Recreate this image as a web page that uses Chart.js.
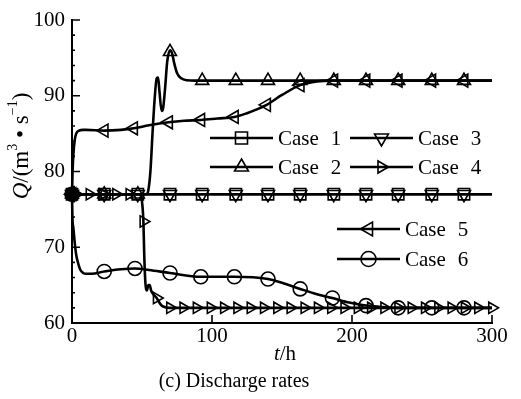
<!DOCTYPE html>
<html><head><meta charset="utf-8">
<script src="https://cdn.jsdelivr.net/npm/chart.js@4/dist/chart.umd.min.js"></script>
<style>html,body{margin:0;padding:0;background:#fff;}</style>
</head><body>
<canvas id="c" width="521" height="399"></canvas>
<script>
// ---------- data ----------
const caseLabels = ['Case 1', 'Case 2', 'Case 3', 'Case 4', 'Case 5', 'Case 6'];
const xTickValues = [0, 100, 200, 300];
const yTickValues = [60, 70, 80, 90, 100];

// Case 1 (square)
const c1T = [0, 300];
const c1Q = [77, 77];
const c1MarkT = [0, 23, 47, 70, 93, 117, 140, 163, 187, 210, 233, 257, 280];
const c1MarkQ = [77, 77, 77, 77, 77, 77, 77, 77, 77, 77, 77, 77, 77];

// Case 2 (triangle up)
const c2T = [0, 50, 53, 54.5, 56, 57.5, 59, 60.5, 61.5, 62.5, 64, 65, 66.5, 68, 70, 71.5, 73, 75, 78, 82, 88, 300];
const c2Q = [77, 77, 77, 77.5, 80, 85, 89.5, 92.3, 92.4, 90.5, 88, 88.3, 91, 94.5, 96, 95.6, 94.3, 93, 92.3, 92.05, 92, 92];
const c2MarkT = [0, 23, 47, 70, 93, 117, 140, 163, 187, 210, 233, 257, 280];
const c2MarkQ = [77, 77, 77, 95.8, 92, 92, 92, 92, 92, 92, 92, 92, 92];

// Case 3 (triangle down)
const c3T = [0, 300];
const c3Q = [77, 77];
const c3MarkT = [0, 23, 47, 70, 93, 117, 140, 163, 187, 210, 233, 257, 280];
const c3MarkQ = [77, 77, 77, 77, 77, 77, 77, 77, 77, 77, 77, 77, 77];

// Case 4 (triangle right)
const c4T = [0, 48.5, 49.5, 50.3, 51, 51.6, 52.2, 52.8, 53.5, 54.5, 55.5, 56.5, 58.5, 60.5, 62, 64, 67, 70, 300];
const c4Q = [77, 77, 76.6, 75.5, 73.4, 69, 66, 64.6, 64.3, 65, 65, 64.3, 63.7, 63.3, 62.8, 62.3, 62.05, 62, 62];
const c4MarkT = [3, 12.5, 22, 31.5, 41, 51, 60.5, 70, 79.5, 89, 99, 108.5, 118, 127.5, 137, 146.5, 156, 166, 175.5, 185, 194.5, 204, 213.5, 223, 233, 242.5, 252, 261.5, 271, 280.5, 290, 300];
const c4MarkQ = [77, 77, 77, 77, 77, 73.4, 63.3, 62, 62, 62, 62, 62, 62, 62, 62, 62, 62, 62, 62, 62, 62, 62, 62, 62, 62, 62, 62, 62, 62, 62, 62, 62];

// Case 5 (triangle left)
const c5T = [0, 0.4, 1, 2, 3, 5, 8, 10, 23, 35, 44, 55, 69, 80, 92, 104, 116, 125, 132, 139, 150, 163, 175, 187, 300];
const c5Q = [77, 80, 82.3, 84.2, 85, 85.4, 85.5, 85.5, 85.4, 85.5, 85.7, 86.1, 86.5, 86.7, 86.8, 87, 87.2, 87.7, 88.2, 88.8, 90.1, 91.4, 91.9, 92, 92];
const c5MarkT = [0, 23, 44, 69, 92, 116, 139, 163, 187, 210, 233, 257, 280];
const c5MarkQ = [77, 85.4, 85.7, 86.5, 86.8, 87.2, 88.8, 91.4, 92, 92, 92, 92, 92];

// Case 6 (circle)
const c6T = [0, 0.3, 1, 2, 3, 4.5, 6, 8, 10, 14, 23, 35, 45, 55, 70, 92, 116, 140, 150, 163, 175, 186, 198, 210, 222, 233, 300];
const c6Q = [77, 74, 72.5, 70.5, 69, 67.8, 67, 66.6, 66.5, 66.5, 66.8, 67.1, 67.2, 67, 66.6, 66.1, 66.1, 65.8, 65.3, 64.5, 63.8, 63.3, 62.7, 62.3, 62.1, 62, 62];
const c6MarkT = [0, 23, 45, 70, 92, 116, 140, 163, 186, 210, 233, 257, 280];
const c6MarkQ = [77, 66.8, 67.2, 66.6, 66.1, 66.1, 65.8, 64.5, 63.3, 62.3, 62, 62, 62];

// ---------- build ----------
const FONT = '"Liberation Serif", "Times New Roman", serif';
const toXY = (t, q) => t.map((v, i) => ({x: v, y: q[i]}));
const styles = [
  {ps: 'rect', rot: 0, r: 8},
  {ps: 'triangle', rot: 0, r: 7.5},
  {ps: 'triangle', rot: 180, r: 7.5},
  {ps: 'triangle', rot: 90, r: 6.5},
  {ps: 'triangle', rot: 270, r: 7.5},
  {ps: 'circle', rot: 0, r: 7}
];
const lines = [[c1T, c1Q], [c2T, c2Q], [c3T, c3Q], [c4T, c4Q], [c5T, c5Q], [c6T, c6Q]];
const marks = [[c1MarkT, c1MarkQ], [c2MarkT, c2MarkQ], [c3MarkT, c3MarkQ], [c4MarkT, c4MarkQ], [c5MarkT, c5MarkQ], [c6MarkT, c6MarkQ]];

const datasets = [];
lines.forEach((ln, i) => {
  datasets.push({
    label: caseLabels[i], data: toXY(ln[0], ln[1]), showLine: true,
    borderColor: '#000', borderWidth: 2.6, pointRadius: 0,
    cubicInterpolationMode: 'monotone', fill: false, clip: false
  });
});
marks.forEach((m, i) => {
  datasets.push({
    label: caseLabels[i] + ' markers', data: toXY(m[0], m[1]),
    showLine: false, borderColor: '#000', pointBorderColor: '#000',
    pointBackgroundColor: (ctx) => (i === 5 && ctx.dataIndex === 0) ? '#000' : 'rgba(0,0,0,0)',
    pointStyle: styles[i].ps, pointRotation: styles[i].rot, pointRadius: styles[i].r,
    pointBorderWidth: 1.6, clip: false
  });
});

const legendLayout = [
  {i: 0, x1: 210, x2: 273, y: 138, tx: 278},
  {i: 2, x1: 350, x2: 413, y: 138, tx: 418},
  {i: 1, x1: 210, x2: 273, y: 167, tx: 278},
  {i: 3, x1: 350, x2: 413, y: 167, tx: 418},
  {i: 4, x1: 337, x2: 400, y: 229, tx: 405},
  {i: 5, x1: 337, x2: 400, y: 259, tx: 405}
];

function drawParts(ctx, parts, cx, cy) {
  let total = 0;
  parts.forEach(p => { ctx.font = p.f; total += ctx.measureText(p.t).width; });
  let x = cx - total / 2;
  parts.forEach(p => {
    ctx.font = p.f;
    ctx.fillText(p.t, x, cy + (p.dy || 0));
    x += ctx.measureText(p.t).width;
  });
}

const decor = {
  id: 'decor',
  afterDraw(chart) {
    const {ctx, chartArea: a, scales: {x, y}} = chart;
    ctx.save();
    ctx.strokeStyle = '#000'; ctx.fillStyle = '#000';
    // tick marks (inward)
    ctx.lineWidth = 1.6;
    ctx.beginPath();
    yTickValues.forEach(v => {
      if (v === 60) return;
      const py = y.getPixelForValue(v);
      ctx.moveTo(a.left, py); ctx.lineTo(a.left + 8, py);
    });
    for (let v = 62; v < 100; v += 2) {
      if (v % 10 === 0) continue;
      const py = y.getPixelForValue(v);
      ctx.moveTo(a.left, py); ctx.lineTo(a.left + 3, py);
    }
    xTickValues.forEach(v => {
      if (v === 0) return;
      const px = x.getPixelForValue(v);
      ctx.moveTo(px, a.bottom); ctx.lineTo(px, a.bottom - 8);
    });
    ctx.stroke();

    // legend
    legendLayout.forEach(L => {
      const st = styles[L.i];
      ctx.lineWidth = 2.6;
      ctx.beginPath(); ctx.moveTo(L.x1, L.y); ctx.lineTo(L.x2, L.y); ctx.stroke();
      ctx.lineWidth = 1.6;
      ctx.fillStyle = 'rgba(0,0,0,0)';
      Chart.helpers.drawPoint(ctx, {pointStyle: st.ps, rotation: st.rot, radius: st.r + 0.5, borderWidth: 1.6}, (L.x1 + L.x2) / 2, L.y);
      ctx.fillStyle = '#000';
      ctx.font = '21px ' + FONT;
      ctx.textBaseline = 'middle'; ctx.textAlign = 'left';
      const words = caseLabels[L.i].split(' ');
      ctx.fillText(words[0], L.tx, L.y + 1);
      const w = ctx.measureText(words[0]).width;
      ctx.fillText(words[1], L.tx + w + 12, L.y + 1);
    });

    // axis titles
    ctx.fillStyle = '#000';
    ctx.textAlign = 'left'; ctx.textBaseline = 'middle';
    drawParts(ctx, [
      {t: 't', f: 'italic 21px ' + FONT},
      {t: '/h', f: '21px ' + FONT}
    ], 285, 354);
    drawParts(ctx, [{t: '(c) Discharge rates', f: '20px ' + FONT}], 234, 382);

    ctx.save();
    ctx.translate(22, 146);
    ctx.rotate(-Math.PI / 2);
    drawParts(ctx, [
      {t: 'Q', f: 'italic 23px ' + FONT},
      {t: '/(m', f: '23px ' + FONT},
      {t: '3', f: '14px ' + FONT, dy: -9},
      {t: ' • s', f: '23px ' + FONT},
      {t: '−1', f: '14px ' + FONT, dy: -9},
      {t: ')', f: '23px ' + FONT}
    ], 0, 0);
    ctx.restore();
    ctx.restore();
  }
};

new Chart(document.getElementById('c'), {
  type: 'scatter',
  data: {datasets},
  options: {
    responsive: false, animation: false, devicePixelRatio: 1,
    layout: {padding: {top: 20, right: 29, left: 0, bottom: 0}},
    plugins: {legend: {display: false}, tooltip: {enabled: false}},
    scales: {
      x: {
        type: 'linear', min: 0, max: 300,
        afterBuildTicks: s => { s.ticks = xTickValues.map(v => ({value: v})); },
        afterFit: s => { s.height = 76; },
        ticks: {color: '#000', font: {family: FONT, size: 21}, padding: 1, maxRotation: 0},
        grid: {display: false, drawTicks: false},
        border: {display: true, color: '#000', width: 2}
      },
      y: {
        type: 'linear', min: 60, max: 100,
        afterBuildTicks: s => { s.ticks = yTickValues.map(v => ({value: v})); },
        afterFit: s => { s.width = 72; },
        ticks: {color: '#000', font: {family: FONT, size: 21}, padding: 7},
        grid: {display: false, drawTicks: false},
        border: {display: true, color: '#000', width: 2}
      }
    }
  },
  plugins: [decor]
});
</script>
</body></html>
